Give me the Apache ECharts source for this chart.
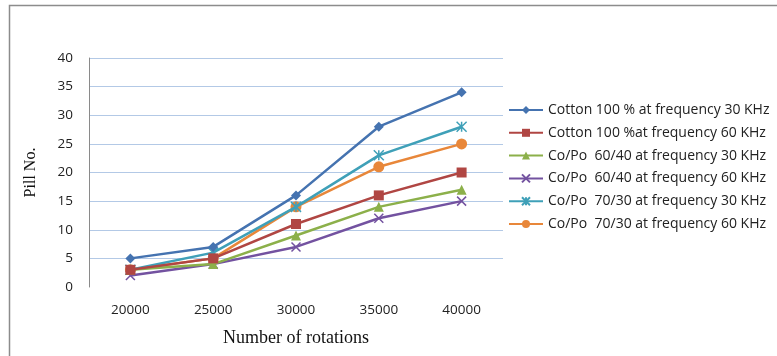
<!doctype html>
<html lang="en">
<head>
    <meta charset="UTF-8">
    <title>Pill No.</title>
    <script src="https://cdn.jsdelivr.net/npm/echarts@6/dist/echarts.min.js"></script>
    <style>
        html, body { margin: 0; padding: 0; background: #fff; }
        #main { width: 777px; height: 356px; }
    </style>
</head>
<body>
<div id="main"></div>
<script type="text/javascript">
    // categories (x axis)
    var rotations = ['20000', '25000', '30000', '35000', '40000'];
    // series names
    var names = [
        'Cotton 100 % at frequency 30 KHz',
        'Cotton 100 %at frequency 60 KHz',
        'Co/Po  60/40 at frequency 30 KHz',
        'Co/Po  60/40 at frequency 60 KHz',
        'Co/Po  70/30 at frequency 30 KHz',
        'Co/Po  70/30 at frequency 60 KHz'
    ];
    // values
    var cotton30 = [5, 7, 16, 28, 34];
    var cotton60 = [3, 5, 11, 16, 20];
    var coPo6040_30 = [3, 4, 9, 14, 17];
    var coPo6040_60 = [2, 4, 7, 12, 15];
    var coPo7030_30 = [3, 6, 14, 23, 28];
    var coPo7030_60 = [3, 5, 14, 21, 25];

    var colors = ['#4573B0', '#B04643', '#8CB04A', '#7352A0', '#3FA0B8', '#E8873A'];
    var symbols = [
        'diamond',
        'rect',
        'triangle',
        'path://M0,0L10,10M10,0L0,10',
        'path://M0,0L10,10M10,0L0,10M5,0L5,10',
        'circle'
    ];
    var symbolSizes = [10, 10, 10, 9, 10, 11];
    var allData = [cotton30, cotton60, coPo6040_30, coPo6040_60, coPo7030_30, coPo7030_60];

    var series = [];
    allData.forEach(function (item, index) {
        series.push({
            name: names[index],
            type: 'line',
            data: item,
            symbol: symbols[index],
            symbolSize: symbolSizes[index],
            showAllSymbol: true,
            lineStyle: { width: 2.5, color: colors[index] },
            itemStyle: {
                color: index === 3 || index === 4 ? 'rgba(0,0,0,0)' : colors[index],
                borderColor: colors[index],
                borderWidth: index === 3 || index === 4 ? 1.5 : 0
            },
            emphasis: { disabled: true },
            z: 10 - index
        });
    });

    var myChart = echarts.init(document.getElementById('main'));
    var option = {
        animation: false,
        color: colors,
        graphic: [{
            type: 'rect',
            shape: { x: 9.5, y: 5.5, width: 800, height: 400 },
            style: { fill: 'none', stroke: '#8c8c8c', lineWidth: 1.5 },
            silent: true
        }],
        grid: { left: 89, top: 58, right: 274, bottom: 69, containLabel: false },
        legend: {
            orient: 'vertical',
            left: 503,
            top: 98,
            itemWidth: 34,
            itemHeight: 10,
            itemGap: 8.8,
            textStyle: { fontFamily: 'Open Sans', fontSize: 14, lineHeight: 14, color: '#222' },
            data: names
        },
        xAxis: {
            type: 'category',
            data: rotations,
            boundaryGap: true,
            axisLine: { show: false },
            axisTick: { show: false },
            axisLabel: { color: '#222', fontFamily: 'Open Sans', fontSize: 13.5, margin: 16 },
            name: 'Number of rotations',
            nameLocation: 'middle',
            nameGap: 42,
            nameTextStyle: { fontFamily: 'Liberation Serif', fontSize: 18, color: '#111' }
        },
        yAxis: {
            type: 'value',
            min: 0,
            max: 40,
            interval: 5,
            axisLine: { show: true, lineStyle: { color: '#8a8a8a', width: 1 } },
            axisTick: { show: false },
            axisLabel: { color: '#222', fontFamily: 'Open Sans', fontSize: 13.5, margin: 16 },
            splitLine: { show: true, showMinLine: false, lineStyle: { color: '#B3C9E6', width: 1.2 } },
            name: 'Pill No.',
            nameLocation: 'middle',
            nameGap: 50,
            nameTextStyle: { fontFamily: 'Liberation Serif', fontSize: 16, color: '#111' }
        },
        series: series
    };
    myChart.setOption(option);
</script>
</body>
</html>
